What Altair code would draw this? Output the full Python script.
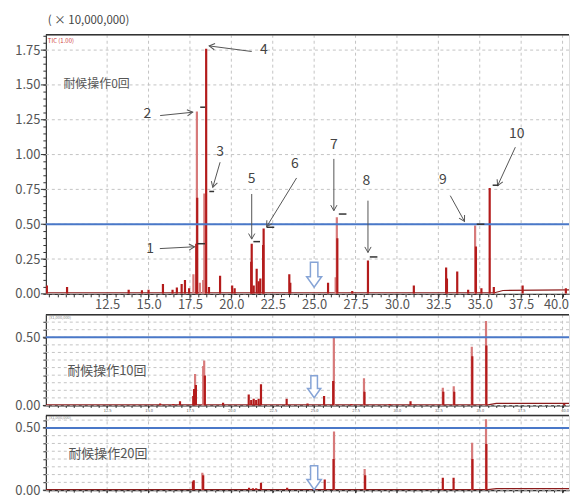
import math
import altair as alt
import pandas as pd

FONT = "Noto Sans CJK JP"
DARK = "#b31b1b"
LIGHT = "#d77a7a"
BLUE = "#4a78c8"
GRID = "#c4c4c4"
TXT = "#555555"

# ---------------- shared x (retention time) ----------------
x_domain = [8.8, 40.39]
x_labels = [12.5, 15.0, 17.5, 20.0, 22.5, 25.0, 27.5, 30.0, 32.5, 35.0, 37.5, 40.0]
x_ticks = [round(9.0 + 0.5 * i, 1) for i in range(63)]
W = 525
AXIS_W = 32

# ---------------- top panel (0 cycles) ----------------
top_y_domain = [0, 1.86]
top_y_labels = [0.0, 0.25, 0.5, 0.75, 1.0, 1.25, 1.5, 1.75]
top_y_ticks = [round(0.05 * i, 2) for i in range(38)]
H_TOP = 260

top_t = [8.86, 10.08, 13.8, 14.6, 15.0, 15.87, 16.45, 16.71, 17.0, 17.2, 17.45,
         17.71, 17.88, 17.92, 17.94, 18.1, 18.3, 18.37, 18.48, 18.65, 19.32, 20.05, 20.2,
         21.2, 21.23, 21.35, 21.53, 21.65, 21.75, 21.92, 21.95,
         23.5, 23.56, 25.84, 26.3, 26.37, 26.4, 27.3, 28.25,
         31.02, 32.97, 33.02, 33.64, 34.3, 34.72, 34.77, 35.1, 35.6, 35.85, 37.59, 40.2]
top_h = [0.06, 0.05, 0.03, 0.025, 0.03, 0.07, 0.03, 0.045, 0.07, 0.1, 0.04,
         0.14, 0.36, 1.31, 0.69, 0.08, 0.1, 0.72, 1.76, 0.05, 0.13, 0.06, 0.04,
         0.23, 0.36, 0.06, 0.18, 0.09, 0.11, 0.35, 0.47,
         0.14, 0.08, 0.08, 0.12, 0.55, 0.40, 0.02, 0.24,
         0.06, 0.19, 0.11, 0.16, 0.03, 0.49, 0.34, 0.04, 0.76, 0.05, 0.06, 0.04]
top_tone = ["d", "d", "d", "d", "d", "d", "d", "d", "d", "d", "d",
            "l", "d", "l", "d", "l", "l", "l", "d", "d", "d", "d", "d",
            "d", "d", "d", "d", "d", "d", "d", "d",
            "d", "d", "d", "l", "l", "d", "d", "d",
            "d", "d", "d", "d", "d", "l", "d", "d", "d", "d", "d", "d"]
top_base_t = [8.8, 35.9, 36.4, 40.39]
top_base_h = [0.008, 0.008, 0.024, 0.028]

# peak number annotations
ann_num = ["1", "2", "3", "4", "5", "6", "7", "8", "9", "10"]
ann_text_t = [15.1, 14.93, 19.32, 21.97, 21.23, 23.84, 26.19, 28.16, 32.77, 37.23]
ann_text_h = [0.32, 1.29, 1.02, 1.75, 0.825, 0.93, 1.065, 0.81, 0.82, 1.15]
arrow_t1 = [15.68, 15.7, 19.32, 21.23, 21.23, 23.94, 26.19, 28.25, 33.22, 37.15]
arrow_h1 = [0.325, 1.28, 0.945, 1.74, 0.717, 0.832, 0.969, 0.669, 0.705, 1.053]
arrow_t2 = [17.78, 17.67, 18.88, 18.66, 21.23, 22.13, 26.19, 28.25, 34.08, 36.08]
arrow_h2 = [0.338, 1.304, 0.765, 1.78, 0.393, 0.482, 0.597, 0.297, 0.52, 0.777]
# integration markers next to peak tops
mark_t1 = [17.95, 18.12, 18.67, 21.33, 22.13, 26.49, 28.36, 34.82, 35.78]
mark_t2 = [18.41, 18.42, 18.96, 21.73, 22.59, 26.95, 28.82, 35.28, 36.14]
mark_h = [0.36, 1.34, 0.735, 0.375, 0.478, 0.573, 0.265, 0.5, 0.78]

# ---------------- middle panel (10 cycles) ----------------
mid_y_domain = [0, 0.665]
mid_y_ticks = [round(k * 0.5 / 9, 4) for k in range(12)]
H_MID = 91
mid_t = [15.7, 16.5, 16.9, 17.7, 17.75, 17.81, 17.86, 18.3, 18.36, 18.4, 19.5,
         21.05, 21.2, 21.35, 21.5, 21.65, 21.79, 23.34, 24.6, 25.6, 26.15, 26.19,
         27.25, 28.01, 28.04, 29.56, 30.82, 32.77, 32.8, 33.43, 33.46,
         34.52, 34.55, 35.38, 35.4, 40.1]
mid_h = [0.015, 0.01, 0.03, 0.07, 0.12, 0.23, 0.15, 0.29, 0.33, 0.22, 0.02,
         0.08, 0.04, 0.05, 0.04, 0.05, 0.155, 0.05, 0.015, 0.07, 0.18, 0.50,
         0.01, 0.2, 0.1, 0.01, 0.03, 0.13, 0.1, 0.14, 0.1,
         0.43, 0.36, 0.62, 0.44, 0.01]
mid_tone = ["d", "d", "d", "d", "d", "l", "d", "l", "l", "d", "d",
            "d", "d", "d", "d", "d", "d", "d", "d", "d", "d", "l",
            "d", "l", "d", "d", "d", "l", "d", "l", "d",
            "l", "d", "l", "d", "d"]
mid_base_t = [8.8, 35.5, 36.0, 40.39]
mid_base_h = [0.004, 0.004, 0.015, 0.015]

# ---------------- bottom panel (20 cycles) ----------------
bot_y_domain = [0, 0.6]
bot_y_ticks = [round(k * 0.0625, 4) for k in range(10)]
H_BOT = 75
bot_t = [17.68, 17.73, 18.25, 18.3, 21.07, 21.3, 21.5, 21.79, 23.37, 25.64,
         26.17, 26.2, 28.05, 28.08, 32.77, 33.42, 34.54, 34.56, 35.38, 35.4]
bot_h = [0.07, 0.08, 0.14, 0.12, 0.02, 0.015, 0.015, 0.06, 0.02, 0.085,
         0.25, 0.47, 0.17, 0.12, 0.10, 0.10, 0.38, 0.25, 0.57, 0.37]
bot_tone = ["d", "d", "l", "d", "d", "d", "d", "d", "d", "d",
            "d", "l", "l", "d", "d", "d", "l", "d", "l", "d"]
bot_base_t = [8.8, 35.5, 36.0, 40.39]
bot_base_h = [0.004, 0.004, 0.012, 0.012]

panel_labels = ["耐候操作0回", "耐候操作10回", "耐候操作20回"]
label_t = [9.86, 10.1, 10.16]
label_h = [1.51, 0.25, 0.29]
threshold = 0.5
marker_t = 25.0
marker_h = [0.137, 0.137, 0.1]
marker_size = [625, 484, 576]


# ---------------- helpers ----------------
def xs():
    return alt.Scale(domain=x_domain, nice=False, zero=False)


def ys(domain):
    return alt.Scale(domain=domain, nice=False, zero=False)


def label_expr(values, fmt):
    conds = " || ".join("abs(datum.value - %s) < 1e-6" % v for v in values)
    return "(%s) ? format(datum.value, '%s') : ''" % (conds, fmt)


def x_axis(label_size, pad, tick, labels=True):
    return alt.Axis(values=x_ticks, labelExpr=label_expr(x_labels, ".1f"), labels=labels,
                    labelFontSize=label_size, labelColor=TXT, labelFont=FONT,
                    labelPadding=pad, labelOverlap=False, labelFlush=20, labelFlushOffset=6,
                    tickSize=tick, tickColor="#333", domainColor="#333", domainWidth=1.2,
                    grid=False, title=None)


def y_axis(ticks, labels, label_size):
    return alt.Axis(values=ticks, labelExpr=label_expr(labels, ".2f"),
                    labelFontSize=label_size, labelColor=TXT, labelFont=FONT, labelPadding=3,
                    labelOverlap=False, labelFlush=False, tickSize=3,
                    minExtent=AXIS_W, maxExtent=AXIS_W,
                    tickColor="#333", domainColor="#333", domainWidth=1.2,
                    grid=False, title=None)


def panel(i, ts, hs, tones, domain, base_t, base_h, height, xaxis, yaxis,
          grid_y, major_y, label_size, major_len):
    X = lambda f="t": alt.X(f + ":Q", scale=xs(), axis=xaxis, title=None)
    Y = lambda f="h": alt.Y(f + ":Q", scale=ys(domain), axis=yaxis, title=None)

    vgrid = alt.Chart(pd.DataFrame({"t": x_labels})).mark_rule(
        color=GRID, strokeDash=[3, 3], strokeWidth=1).encode(x=X())
    hgrid = alt.Chart(pd.DataFrame({"h": grid_y})).mark_rule(
        color=GRID, strokeDash=[3, 3], strokeWidth=1).encode(y=Y())
    xmaj = alt.Chart(pd.DataFrame({"t": x_labels})).mark_rule(
        color="#333", strokeWidth=1).encode(x=X(), y=alt.value(height), y2=alt.value(height + major_len))
    ymaj = alt.Chart(pd.DataFrame({"h": major_y})).mark_rule(
        color="#333", strokeWidth=1).encode(y=Y(), x=alt.value(0), x2=alt.value(-major_len))
    df = pd.DataFrame({"t": ts, "h": hs, "tone": tones})
    peaks = alt.Chart(df).mark_rule(strokeWidth=2.2, clip=True).encode(
        x=X(), y=Y(), y2=alt.datum(0),
        color=alt.Color("tone:N", scale=alt.Scale(domain=["l", "d"], range=[LIGHT, DARK]), legend=None),
        order=alt.Order("tone:N", sort="descending"))
    base = alt.Chart(pd.DataFrame({"t": base_t, "h": base_h})).mark_line(
        color="#8c1c1c", strokeWidth=1.2, clip=True).encode(x=X(), y=Y())
    blue = alt.Chart(pd.DataFrame({"h": [threshold]})).mark_rule(
        color=BLUE, strokeWidth=2).encode(y=Y())
    border = alt.Chart(pd.DataFrame({"h": [domain[1]]})).mark_rule(
        color="#333", strokeWidth=1.5).encode(y=Y())
    lab = alt.Chart(pd.DataFrame({"t": [label_t[i]], "h": [label_h[i]], "s": [panel_labels[i]]})).mark_text(
        align="left", baseline="middle", font=FONT, fontSize=label_size, color=TXT).encode(
        x=X(), y=Y(), text="s:N")
    arrow = alt.Chart(pd.DataFrame({"t": [marker_t], "h": [marker_h[i]]})).mark_point(
        shape="M-0.3,-1L0.3,-1L0.3,0.15L0.6,0.15L0,1L-0.6,0.15L-0.3,0.15Z",
        size=marker_size[i], filled=True, fill="white", stroke="#86a4d6", strokeWidth=1.5,
        opacity=1).encode(x=X(), y=Y())
    return [vgrid, hgrid, xmaj, ymaj, base, peaks, blue, border, lab, arrow], X, Y


# ---------------- top panel ----------------
top_layers, TX, TY = panel(0, top_t, top_h, top_tone, top_y_domain, top_base_t, top_base_h, H_TOP,
                           x_axis(13, 2, 3), y_axis(top_y_ticks, top_y_labels, 13),
                           top_y_labels, top_y_labels, 12, 5)

px_x = W / (x_domain[1] - x_domain[0])
px_y = H_TOP / (top_y_domain[1] - top_y_domain[0])
angles = []
for a, b, c, d in zip(arrow_t1, arrow_h1, arrow_t2, arrow_h2):
    dx = (c - a) * px_x
    dy = -(d - b) * px_y
    angles.append(math.degrees(math.atan2(dx, -dy)) % 360)

ann_df = pd.DataFrame({"t": ann_text_t, "h": ann_text_h, "s": ann_num})
arr_df = pd.DataFrame({"t": arrow_t1, "h": arrow_h1, "t2": arrow_t2, "h2": arrow_h2, "ang": angles})
ann_text = alt.Chart(ann_df).mark_text(font=FONT, fontSize=14, color="#444").encode(
    x=TX(), y=TY(), text="s:N")
ann_shaft = alt.Chart(arr_df).mark_rule(color="#555", strokeWidth=1).encode(
    x=TX(), y=TY(), x2="t2:Q", y2="h2:Q")
ann_head = alt.Chart(arr_df).mark_point(shape="M-0.45,0.8L0,0L0.45,0.8", filled=False,
                                        stroke="#555", strokeWidth=1, size=196, opacity=1).encode(
    x=TX("t2"), y=TY("h2"), angle=alt.Angle("ang:Q", scale=None))
mark_df = pd.DataFrame({"t": mark_t1, "t2": mark_t2, "h": mark_h})
peak_marks = alt.Chart(mark_df).mark_rule(color="#333", strokeWidth=1.5).encode(
    x=TX(), x2="t2:Q", y=TY())
tic = alt.Chart(pd.DataFrame({"s": ["TIC (1.00)"]})).mark_text(
    align="left", baseline="top", font=FONT, fontSize=6, color="#d04040").encode(
    x=alt.value(2), y=alt.value(3), text="s:N")
unit = alt.Chart(pd.DataFrame({"s": ["( × 10,000,000)"]})).mark_text(
    align="left", baseline="middle", font=FONT, fontSize=11.5, color="#444").encode(
    x=alt.value(2), y=alt.value(-14), text="s:N")

top = alt.layer(*top_layers, ann_shaft, ann_head, ann_text, peak_marks, tic, unit).properties(
    width=W, height=H_TOP)


# ---------------- sub panels ----------------
def sub_panel(i, ts, hs, tones, domain, ticks, base_t, base_h, height, show_x):
    layers, SX, SY = panel(i, ts, hs, tones, domain, base_t, base_h, height,
                           x_axis(4, 1, 2, show_x), y_axis(ticks, [0.0, 0.5], 13),
                           ticks, [0.0, 0.5], 13, 3)
    hdr = alt.Chart(pd.DataFrame({"s": ["(x1,000,000)"]})).mark_text(
        align="left", baseline="top", font=FONT, fontSize=4, color="#888").encode(
        x=alt.value(3), y=alt.value(1), text="s:N")
    return alt.layer(*layers, hdr).properties(width=W, height=height)


mid = sub_panel(1, mid_t, mid_h, mid_tone, mid_y_domain, mid_y_ticks, mid_base_t, mid_base_h, H_MID, True)
bot = sub_panel(2, bot_t, bot_h, bot_tone, bot_y_domain, bot_y_ticks, bot_base_t, bot_base_h, H_BOT, False)

chart = alt.vconcat(top, mid, bot, spacing=0).configure_view(strokeWidth=0).configure(
    background="white", padding={"left": 5, "top": 5, "right": 0, "bottom": 0})

chart.save("out.html", embed_options={"renderer": "svg", "actions": False})
